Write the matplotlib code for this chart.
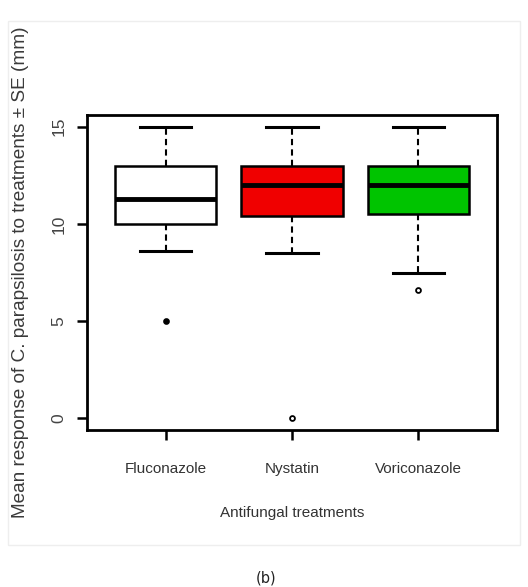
import matplotlib
matplotlib.use("Agg")
import matplotlib.pyplot as plt
from matplotlib.patches import Rectangle

categories = ["Fluconazole", "Nystatin", "Voriconazole"]
q1 = [10.0, 10.4, 10.5]
median = [11.3, 12.0, 12.0]
q3 = [13.0, 13.0, 13.0]
whislo = [8.6, 8.5, 7.5]
whishi = [15.0, 15.0, 15.0]
outliers = [[5.0], [0.0], [6.6]]
colors = ["white", "#f00000", "#00c400"]
yticks = [0, 5, 10, 15]

fig = plt.figure(figsize=(5.28, 5.87), dpi=100)
fig.patches.append(Rectangle((8 / 528, 1 - 545 / 587), 512 / 528, 524 / 587,
                             transform=fig.transFigure, fill=False,
                             edgecolor="#eeeeee", linewidth=1.0))
ax = fig.add_axes([0.165, 0.2675, 0.776, 0.5365])

stats = []
for i in range(3):
    stats.append(dict(label=categories[i], q1=q1[i], med=median[i], q3=q3[i],
                      whislo=whislo[i], whishi=whishi[i], fliers=outliers[i]))

bp = ax.bxp(stats, positions=[1, 2, 3], widths=0.8, patch_artist=True,
            boxprops=dict(linewidth=1.8, edgecolor="black"),
            medianprops=dict(linewidth=3.5, color="black"),
            whiskerprops=dict(linewidth=1.5, linestyle=(0, (3, 2)), color="black"),
            capprops=dict(linewidth=2.2, color="black"),
            capwidths=0.41,
            flierprops=dict(marker="o", markersize=3.5, markerfacecolor="white",
                            markeredgecolor="black", markeredgewidth=1.3))
for patch, c in zip(bp["boxes"], colors):
    patch.set_facecolor(c)
bp["fliers"][0].set_markerfacecolor("black")

ax.set_xlim(0.38, 3.62)
ax.set_ylim(-0.6, 15.6)
ax.set_yticks(yticks)
ax.set_yticklabels([str(v) for v in yticks], rotation=90, va="center",
                   fontsize=12.5, color="#444444", family="Liberation Sans")
ax.set_xticks([1, 2, 3])
ax.set_xticklabels(categories, fontsize=11, color="#333333",
                   family="Liberation Sans")
ax.tick_params(axis="both", direction="out", length=7, width=1.8)
ax.tick_params(axis="x", pad=16)
ax.tick_params(axis="y", pad=8)
for s in ax.spines.values():
    s.set_linewidth(2)

ax.set_xlabel("Antifungal treatments", fontsize=11, color="#333333",
              family="Liberation Sans", labelpad=22)
fig.text(0.038, 1 - 272 / 587, "Mean response of C. parapsilosis to treatments \u00b1 SE (mm)",
         rotation=90, ha="center", va="center", fontsize=13.7, color="#3a3a3a",
         family="Liberation Sans")
fig.text(0.503, 1 - 578 / 587, "(b)", ha="center", va="center", fontsize=10.5,
         color="#222222", family="DejaVu Sans")

fig.savefig("out.png", dpi=100)
